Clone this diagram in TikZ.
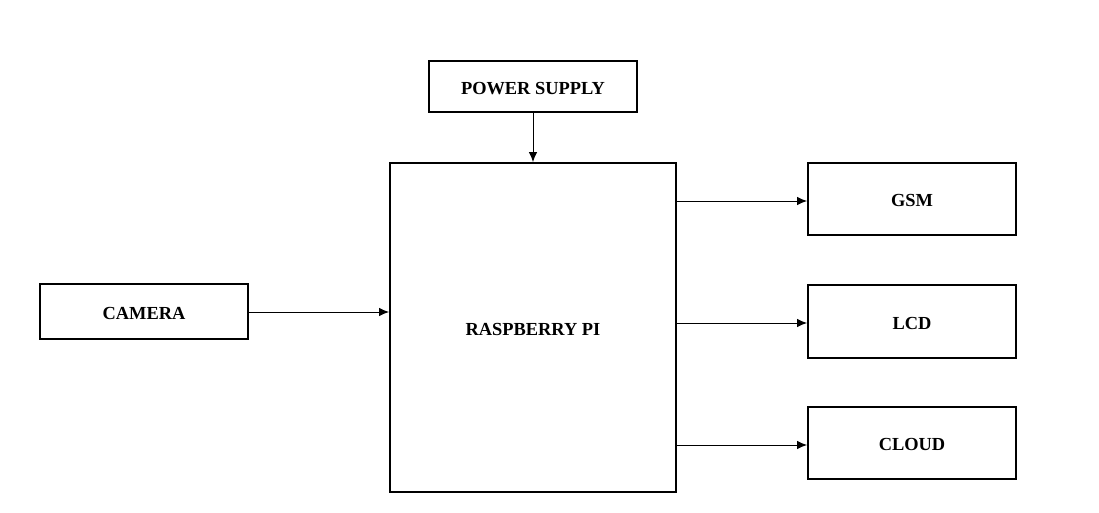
\documentclass[tikz,border=0pt]{standalone}
\usepackage{fontspec}
\setmainfont{Liberation Serif}
\usetikzlibrary{arrows.meta,calc}
\begin{document}
\begin{tikzpicture}[x=0.75pt,y=-0.75pt,
  blk/.style={draw,line width=1.5pt,inner sep=0pt,text height=11.3pt,text depth=0pt,font=\fontsize{13.8}{15}\selectfont\bfseries},
  conn/.style={line width=0.75pt,-{Latex[length=7.5pt,width=6.5pt]}}]
\path[use as bounding box] (0,0) rectangle (1099,512);
\node[blk,minimum width=208*0.75pt,minimum height=51*0.75pt] (ps) at (533,86.5) {POWER SUPPLY};
\node[blk,minimum width=286*0.75pt,minimum height=329*0.75pt] (pi) at (533,327.5) {RASPBERRY PI};
\node[blk,minimum width=208*0.75pt,minimum height=55*0.75pt] (cam) at (144,311.5) {CAMERA};
\node[blk,minimum width=208*0.75pt,minimum height=72*0.75pt] (gsm) at (912,199) {GSM};
\node[blk,minimum width=208*0.75pt,minimum height=73*0.75pt] (lcd) at (912,321.5) {LCD};
\node[blk,minimum width=208*0.75pt,minimum height=72*0.75pt] (cloud) at (912,443) {CLOUD};
\draw[conn] (ps) -- (pi);
\draw[conn] ($(cam.east)+(0,0.5)$) -- ($(cam.east -| pi.west)+(0,0.5)$);
\draw[conn] ($(pi.east |- gsm.west)+(0,2)$) -- ($(gsm.west)+(0,2)$);
\draw[conn] ($(pi.east |- lcd.west)+(0,1.5)$) -- ($(lcd.west)+(0,1.5)$);
\draw[conn] ($(pi.east |- cloud.west)+(0,2)$) -- ($(cloud.west)+(0,2)$);
\end{tikzpicture}
\end{document}
